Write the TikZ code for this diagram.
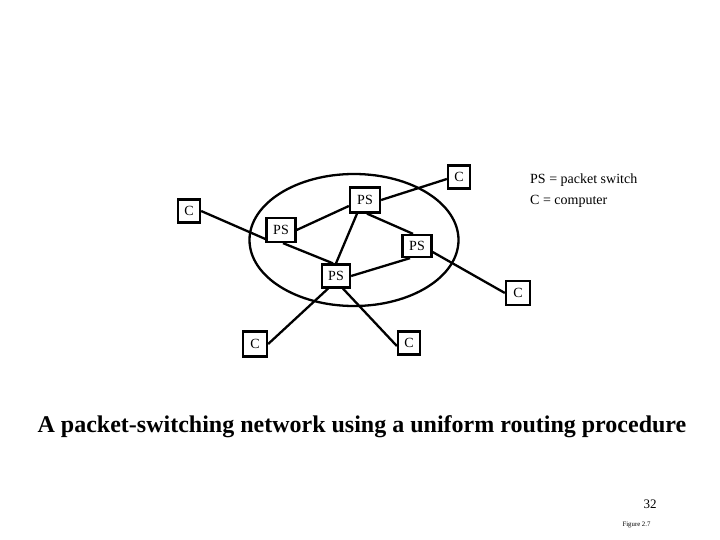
\documentclass[tikz,border=0pt]{standalone}
\usepackage{fontspec}
\setmainfont{Liberation Serif}
\begin{document}
\begin{tikzpicture}[x=1pt,y=-1pt,
  boxnode/.style={draw,line width=2.3pt,inner sep=0pt,fill=white,font=\fontsize{14}{16}\selectfont},
  psbox/.style={boxnode,minimum width=29pt,minimum height=24pt},
  cbox/.style={boxnode,minimum width=22pt,minimum height=23pt},
  link/.style={line width=2.3pt},
  legend/.style={anchor=base west,inner sep=0pt,font=\fontsize{14}{16}\selectfont}]
\useasboundingbox (0,0) rectangle (720,540);
% ellipse
\draw[line width=2.3pt] (354,240) ellipse [x radius=104.5pt, y radius=66pt];
% nodes
\node[cbox] (ct) at (459,177) {C};
\node[psbox,minimum width=30pt,minimum height=25pt] (pst) at (365,200) {PS};
\node[cbox] (cl) at (189,211) {C};
\node[psbox] (psl) at (281,230) {PS};
\node[psbox,minimum height=22pt] (psr) at (417,246) {PS};
\node[psbox,minimum width=28pt,minimum height=23pt] (psb) at (336,276) {PS};
\node[cbox,minimum width=24pt,minimum height=24pt] (cr) at (518,293) {C};
\node[cbox,minimum width=24pt,minimum height=25pt] (cbl) at (255,344) {C};
\node[cbox] (cbm) at (409,343) {C};
% connectors
\draw[link] ([yshift=-6pt]pst.west) -- (psl.east);
\draw[link] ([xshift=-8pt]pst.south) -- (psb.north);
\draw[link] ([xshift=2pt]pst.south) -- ([xshift=-4pt]psr.north);
\draw[link] (pst.east) -- ([yshift=-2pt]ct.west);
\draw[link] (cl.east) -- ([yshift=-9pt]psl.west);
\draw[link] ([xshift=2pt]psl.south) -- ([xshift=-3pt]psb.north);
\draw[link] (psb.east) -- ([xshift=-7pt]psr.south);
\draw[link] ([yshift=-6pt]psr.east) -- (cr.west);
\draw[link] ([xshift=-8pt]psb.south) -- (cbl.east);
\draw[link] ([xshift=7pt]psb.south) -- ([yshift=-3pt]cbm.west);
% legend
\node[legend] (l1) at (530,183.5) {PS = packet switch};
\node[legend] (l2) at (530,204.5) {C = computer};
% title
\node[anchor=base,inner sep=0pt,font=\fontsize{24}{28}\selectfont\bfseries] (title) at (362,432.7) {A packet-switching network using a uniform routing procedure};
\node[inner sep=0pt,font=\fontsize{13}{15}\selectfont] (pg) at (650,504.5) {32};
\node[inner sep=0pt,font=\fontsize{6.8}{8}\selectfont] (fig) at (636.5,525) {Figure 2.7};
\end{tikzpicture}
\end{document}
